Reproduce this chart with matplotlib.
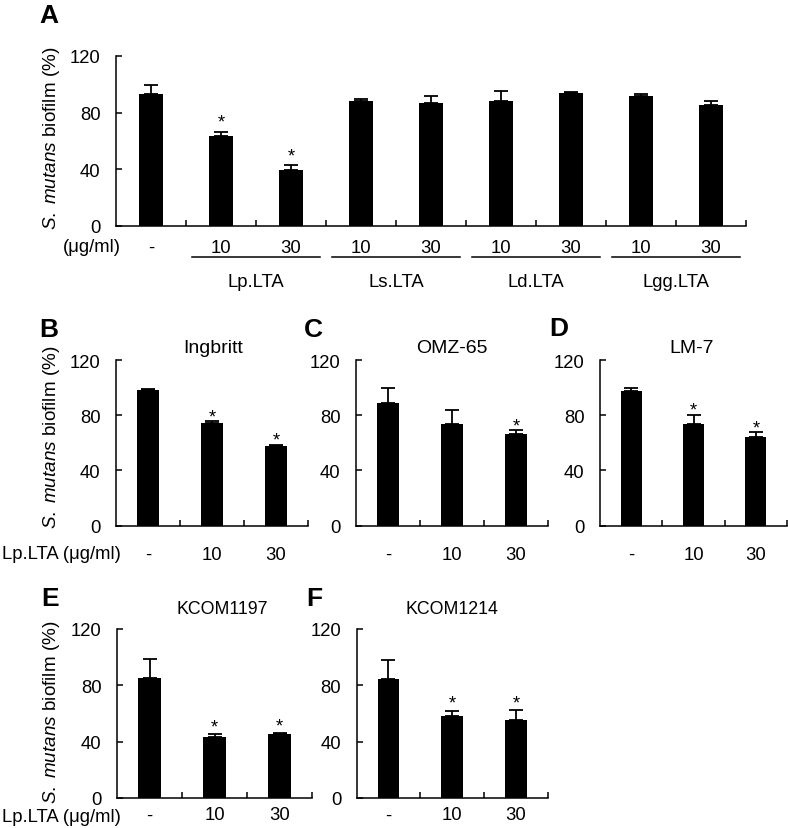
import matplotlib
matplotlib.use("Agg")
import matplotlib.pyplot as plt
import matplotlib.transforms as mtransforms

plt.rcParams['font.family'] = ['Liberation Sans', 'DejaVu Sans']
plt.rcParams['mathtext.fontset'] = 'custom'
plt.rcParams['mathtext.rm'] = 'Liberation Sans'
plt.rcParams['mathtext.it'] = 'Liberation Sans:italic'

# ---------------- data ----------------
a_labels = ["-", "10", "30", "10", "30", "10", "30", "10", "30"]
a_values = [93.5, 63.5, 39.5, 88, 86.5, 88.5, 94, 92, 85.5]
a_errors = [6, 3, 3.5, 1.5, 5.5, 7, 0.7, 1, 3]
a_signif = [False, True, True, False, False, False, False, False, False]
a_groups = ["Lp.LTA", "Ls.LTA", "Ld.LTA", "Lgg.LTA"]

dose_labels = ["-", "10", "30"]
strains = ["Ingbritt", "OMZ-65", "LM-7", "KCOM1197", "KCOM1214"]
strain_values = [
    [98, 74.5, 58],
    [89, 73.5, 66.5],
    [97.5, 73.5, 64],
    [85, 43, 45.5],
    [84.5, 58, 55.5],
]
strain_errors = [
    [1, 1, 0.8],
    [11, 10.5, 2.5],
    [2, 7, 3.5],
    [13.5, 2.5, 0.7],
    [13.5, 4, 7],
]
strain_signif = [
    [False, True, True],
    [False, False, True],
    [False, True, True],
    [False, True, True],
    [False, True, True],
]
yticks = [0, 40, 80, 120]
ylabel = r"$\mathit{S.\ mutans}$ biofilm (%)"

W, H = 788, 829
fig = plt.figure(figsize=(W / 100, H / 100), dpi=100)

FS = 13.3
LETTER_FS = 19


def px_axes(left, top, right, bottom):
    return fig.add_axes([left / W, 1 - bottom / H, (right - left) / W, (bottom - top) / H])


def bar_panel(ax, values, errors, signif, labels, label_y, star_off):
    n = len(values)
    x = list(range(n))
    ax.bar(x, values, width=0.34, color='black', zorder=2)
    ax.errorbar(x, values, yerr=[[0] * n, errors], fmt='none', ecolor='black',
                elinewidth=1.3, capsize=5, capthick=1.3, zorder=3)
    ax.set_xlim(-0.5, n - 0.5)
    ax.set_ylim(0, 120)
    ax.set_yticks(yticks)
    ax.set_xticks([i + 0.5 for i in range(n)])
    ax.set_xticklabels([])
    for s in ['top', 'right']:
        ax.spines[s].set_visible(False)
    for s in ['left', 'bottom']:
        ax.spines[s].set_linewidth(1.1)
    ax.tick_params(axis='y', direction='in', length=4, width=1.1, labelsize=FS, pad=11)
    ax.tick_params(axis='x', direction='in', length=4, width=1.1)
    trans = mtransforms.blended_transform_factory(ax.transData, ax.transAxes)
    for i, lab in enumerate(labels):
        ax.text(i, label_y, lab, transform=trans, ha='center', va='center', fontsize=FS)
    for i, (v, e, s) in enumerate(zip(values, errors, signif)):
        if s:
            ax.annotate('*', xy=(i, v + e), xytext=(0, star_off), textcoords='offset points',
                        ha='center', va='baseline', fontsize=FS)


# ---------------- Panel A ----------------
axA = px_axes(116, 57, 746, 227)
bar_panel(axA, a_values, a_errors, a_signif, a_labels, -0.124, 3.5)
transA = mtransforms.blended_transform_factory(axA.transData, axA.transAxes)
for g, name in enumerate(a_groups):
    i0 = 1 + 2 * g
    axA.plot([i0 - 0.41, i0 + 1 + 0.41], [-0.184, -0.184], transform=transA,
             color='black', lw=1.1, clip_on=False)
    axA.text(i0 + 0.5, -0.324, name, transform=transA, ha='center', va='center', fontsize=FS)
fig.text(121 / W, 1 - 248 / H, "(μg/ml)", ha='right', va='center', fontsize=FS)
fig.text(52 / W, 1 - 138 / H, ylabel, rotation=90, ha='center', va='center', fontsize=13.6)
fig.text(39 / W, 1 - 16 / H, "A", ha='left', va='center', fontsize=LETTER_FS, fontweight='bold')

# ---------------- Panels B-F ----------------
boxes = [
    (116, 361, 308, 526.7),
    (356, 361, 548, 526.7),
    (600, 361, 787, 526.7),
    (117, 630, 312, 799),
    (356.5, 630, 548, 799),
]
label_ys = [-0.171, -0.171, -0.171, -0.1, -0.1]
star_offs = [0, 0, 0, 2, 2]
title_pos = [(213, 348.5), (452, 348.5), (692, 348.5), (222, 610), (452, 610)]
title_fs = [14, 14, 14, 12.8, 12.8]
letters = [("B", 39, 330), ("C", 304, 330), ("D", 549, 329), ("E", 41, 599), ("F", 306, 599)]

for k in range(5):
    ax = px_axes(*boxes[k])
    bar_panel(ax, strain_values[k], strain_errors[k], strain_signif[k], dose_labels,
              label_ys[k], star_offs[k])
    fig.text(title_pos[k][0] / W, 1 - title_pos[k][1] / H, strains[k],
             ha='center', va='center', fontsize=title_fs[k])
    L = letters[k]
    fig.text(L[1] / W, 1 - L[2] / H, L[0], ha='left', va='center',
             fontsize=LETTER_FS, fontweight='bold')

fig.text(121 / W, 1 - 555 / H, "Lp.LTA (μg/ml)", ha='right', va='center', fontsize=FS)
fig.text(121 / W, 1 - 818 / H, "Lp.LTA (μg/ml)", ha='right', va='center', fontsize=FS)
fig.text(52 / W, 1 - 437 / H, ylabel, rotation=90, ha='center', va='center', fontsize=13.6)
fig.text(52 / W, 1 - 712 / H, ylabel, rotation=90, ha='center', va='center', fontsize=13.6)

fig.savefig("out.png", dpi=100)
